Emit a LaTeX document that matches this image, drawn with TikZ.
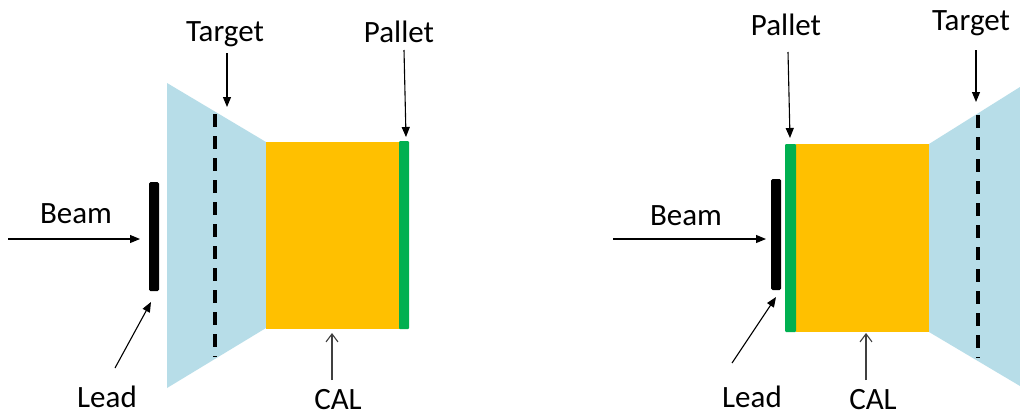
\documentclass[tikz,border=0pt]{standalone}
\usepackage{fontspec}
\setmainfont{Carlito}
\usetikzlibrary{arrows.meta}
\definecolor{tblue}{HTML}{B7DDE8}
\definecolor{corange}{HTML}{FFC000}
\definecolor{pgreen}{HTML}{00B050}
\tikzset{
  lbl/.style={font=\fontsize{31}{36}\selectfont, anchor=base, inner sep=0pt},
  arr/.style={line width=1.1pt, -{Triangle[length=10pt,width=8pt]}},
  openarr/.style={line width=1.1pt, draw=black!75, -{Straight Barb[length=8pt,width=12pt,line width=1.1pt]}},
  leadbar/.style={fill=black, rounded corners=1.5pt},
  pallet/.style={fill=pgreen, rounded corners=1pt},
  cal/.style={fill=corange},
  tgt/.style={fill=tblue},
  tline/.style={line width=3.5pt, dash pattern=on 13pt off 9pt}
}
\begin{document}
\begin{tikzpicture}[x=1pt,y=-1pt]
\useasboundingbox (0,0) rectangle (1020,416);
\fill[white] (0,0) rectangle (1020,416);

% ---------- Left panel ----------
\fill[tgt] (167,83) -- (266,142) -- (266,328) -- (167,388) -- cycle;
\draw[tline] (215,114) -- (215,357);
\fill[cal] (266,142) rectangle (400,329);
\fill[pallet] (399,141) rectangle (409,329);
\fill[leadbar] (149,182) rectangle (159,291);

\node[lbl] (targetL) at (225,41) {Target};
\node[lbl] (palletL) at (399,42) {Pallet};
\node[lbl] (beamL) at (76,223) {Beam};
\node[lbl] (leadL) at (107,407) {Lead};
\node[lbl] (calL) at (338,409) {CAL};

\coordinate (tAs) at (227,53);  \coordinate (tAe) at (227,107);
\coordinate (pAs) at (404,50);  \coordinate (pAe) at (406,137);
\coordinate (bAs) at (8,239);   \coordinate (bAe) at (140,239);
\coordinate (lAs) at (115,368); \coordinate (lAe) at (151,302);
\coordinate (cAs) at (332,380); \coordinate (cAe) at (332,333);
\draw[arr] (tAs) -- (tAe);
\draw[arr] (pAs) -- (pAe);
\draw[arr] (bAs) -- (bAe);
\draw[arr] (lAs) -- (lAe);
\draw[openarr] (cAs) -- (cAe);

% ---------- Right panel ----------
\fill[tgt] (929,144) -- (1020,87) -- (1020,386) -- (929,332) -- cycle;
\draw[tline] (978,115) -- (978,358);
\fill[cal] (796,144) rectangle (929,332);
\fill[pallet] (785,144) rectangle (796,332);
\fill[leadbar] (771,179) rectangle (781,290);

\node[lbl] (palletR) at (786,35) {Pallet};
\node[lbl] (targetR) at (971,30) {Target};
\node[lbl] (beamR) at (686,225) {Beam};
\node[lbl] (leadR) at (752,407) {Lead};
\node[lbl] (calR) at (873,409) {CAL};

\coordinate (tBs) at (976,50);  \coordinate (tBe) at (976,102);
\coordinate (pBs) at (788,52);  \coordinate (pBe) at (790,138);
\coordinate (bBs) at (613,239); \coordinate (bBe) at (766,239);
\coordinate (lBs) at (732,363); \coordinate (lBe) at (776,297);
\coordinate (cBs) at (866,380); \coordinate (cBe) at (866,333);
\draw[arr] (tBs) -- (tBe);
\draw[arr] (pBs) -- (pBe);
\draw[arr] (bBs) -- (bBe);
\draw[arr] (lBs) -- (lBe);
\draw[openarr] (cBs) -- (cBe);
\end{tikzpicture}
\end{document}
